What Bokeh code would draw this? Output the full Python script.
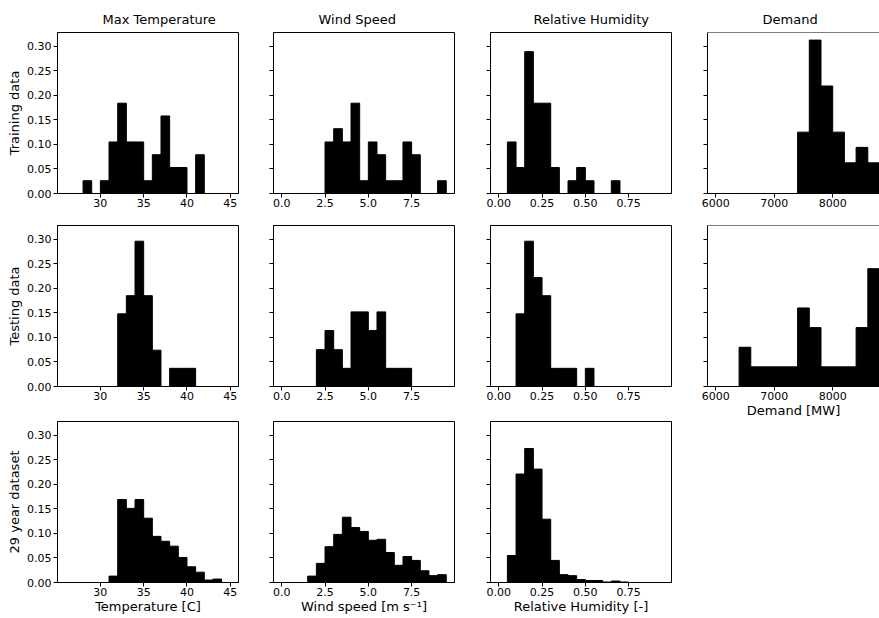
from bokeh.plotting import figure
from bokeh.layouts import gridplot
from bokeh.models import Range1d, FixedTicker, PrintfTickFormatter, Span
from bokeh.embed import file_html
from bokeh.resources import INLINE

# ---------------- data ----------------
col_titles = ["Max Temperature", "Wind Speed", "Relative Humidity", "Demand"]
row_labels = ["Training data", "Testing data", "29 year dataset"]
x_labels = ["Temperature [C]", "Wind speed [m s\u207b\u00b9]", "Relative Humidity [-]", "Demand [MW]"]

temp_edges = [26, 27, 28, 29, 30, 31, 32, 33, 34, 35, 36, 37, 38, 39, 40, 41, 42, 43, 44, 45]
wind_edges = [0.0, 0.5, 1.0, 1.5, 2.0, 2.5, 3.0, 3.5, 4.0, 4.5, 5.0, 5.5, 6.0, 6.5, 7.0, 7.5, 8.0, 8.5, 9.0, 9.5]
rh_edges = [0.00, 0.05, 0.10, 0.15, 0.20, 0.25, 0.30, 0.35, 0.40, 0.45, 0.50, 0.55, 0.60, 0.65, 0.70, 0.75, 0.80, 0.85, 0.90, 0.95]
demand_edges = [6000, 6200, 6400, 6600, 6800, 7000, 7200, 7400, 7600, 7800, 8000, 8200, 8400, 8600, 8800]

temp_train = [0, 0, 0.026, 0, 0.026, 0.105, 0.184, 0.105, 0.105, 0.026, 0.079, 0.158, 0.053, 0.053, 0, 0.079, 0, 0, 0]
temp_test = [0, 0, 0, 0, 0, 0, 0.148, 0.185, 0.296, 0.185, 0.074, 0, 0.037, 0.037, 0.037, 0, 0, 0, 0]
temp_29yr = [0, 0, 0, 0, 0, 0.013, 0.169, 0.151, 0.169, 0.131, 0.094, 0.084, 0.074, 0.051, 0.032, 0.021, 0.005, 0.007, 0]

wind_train = [0, 0, 0, 0, 0, 0.105, 0.132, 0.105, 0.184, 0.026, 0.105, 0.079, 0.026, 0.026, 0.105, 0.079, 0, 0, 0.026]
wind_test = [0, 0, 0, 0, 0.075, 0.114, 0.075, 0.037, 0.152, 0.152, 0.114, 0.152, 0.037, 0.037, 0.037, 0, 0, 0, 0]
wind_29yr = [0, 0, 0, 0.013, 0.039, 0.073, 0.098, 0.133, 0.112, 0.104, 0.086, 0.088, 0.061, 0.035, 0.053, 0.045, 0.024, 0.014, 0.016]

rh_train = [0, 0.105, 0.053, 0.289, 0.184, 0.184, 0.053, 0, 0.026, 0.053, 0.026, 0, 0, 0.026, 0, 0, 0, 0, 0]
rh_test = [0, 0, 0.148, 0.296, 0.222, 0.185, 0.037, 0.037, 0.037, 0, 0.037, 0, 0, 0, 0, 0, 0, 0, 0]
rh_29yr = [0, 0.055, 0.221, 0.273, 0.231, 0.129, 0.045, 0.016, 0.014, 0.006, 0.004, 0.004, 0.001, 0.003, 0.001, 0, 0, 0, 0]

demand_train = [0, 0, 0, 0, 0, 0, 0, 0.125, 0.3125, 0.219, 0.125, 0.0625, 0.094, 0.0625]
demand_test = [0, 0, 0.08, 0.04, 0.04, 0.04, 0.04, 0.16, 0.12, 0.04, 0.04, 0.04, 0.12, 0.24]

y_ticks = [0.00, 0.05, 0.10, 0.15, 0.20, 0.25, 0.30]
temp_ticks = [30, 35, 40, 45]
wind_ticks = [0.0, 2.5, 5.0, 7.5]
rh_ticks = [0.00, 0.25, 0.50, 0.75]
demand_ticks = [6000, 7000, 8000]

# ---------------- layout ----------------
FONT = "DejaVu Sans"
Y_MAX = 0.328
y_range = Range1d(0, Y_MAX)
x_ranges = [Range1d(25.05, 45.95), Range1d(-0.475, 9.975), Range1d(-0.0475, 0.9975), Range1d(5860, 8800)]
edges = [temp_edges, wind_edges, rh_edges, demand_edges]
xticks = [temp_ticks, wind_ticks, rh_ticks, demand_ticks]
xfmt = ["%d", "%.1f", "%.2f", "%d"]
series = [
    [temp_train, wind_train, rh_train, demand_train],
    [temp_test, wind_test, rh_test, demand_test],
    [temp_29yr, wind_29yr, rh_29yr, None],
]

W = [261, 217, 217, 184]
BL = [57, 12, 12, 12]
BR = [23, 24, 24, 0]
H = [213, 207, 197]
BT = [32, 12, 1]
BB = [20, 34, 35]
title_offsets = [45, 45, 43, 55]


def style_axis(ax, standoff):
    ax.major_tick_out = 4
    ax.major_tick_in = 0
    ax.minor_tick_out = 0
    ax.minor_tick_in = 0
    ax.major_tick_line_color = "black"
    ax.major_tick_line_width = 1
    ax.axis_line_color = "black"
    ax.axis_line_width = 1
    ax.major_label_text_font = FONT
    ax.major_label_text_font_size = "11px"
    ax.major_label_text_color = "black"
    ax.major_label_standoff = standoff
    ax.axis_label_text_font = FONT
    ax.axis_label_text_font_size = "13px"
    ax.axis_label_text_font_style = "normal"
    ax.axis_label_text_color = "black"


rows = []
for r in range(3):
    row = []
    for c in range(4):
        vals = series[r][c]
        if vals is None:
            row.append(None)
            continue
        p = figure(width=W[c], height=H[r], x_range=x_ranges[c], y_range=y_range,
                   output_backend="svg", toolbar_location=None,
                   min_border_left=BL[c], min_border_right=BR[c],
                   min_border_top=BT[r], min_border_bottom=BB[r])
        p.xgrid.visible = False
        p.ygrid.visible = False
        p.background_fill_color = "white"
        p.border_fill_color = "white"
        if c == 3:
            p.outline_line_color = None
            p.add_layout(Span(location=Y_MAX, dimension="width", line_color="black", line_width=1))
        else:
            p.outline_line_color = "black"
            p.outline_line_width = 1

        e = edges[c]
        left = [e[i] for i in range(len(vals)) if vals[i] > 0]
        right = [e[i + 1] for i in range(len(vals)) if vals[i] > 0]
        top = [v for v in vals if v > 0]
        p.quad(left=left, right=right, bottom=0, top=top,
               fill_color="black", line_color="black", line_width=1)

        style_axis(p.xaxis[0], 1)
        style_axis(p.yaxis[0], 2)
        p.xaxis.ticker = FixedTicker(ticks=xticks[c])
        p.xaxis.formatter = PrintfTickFormatter(format=xfmt[c])
        p.xaxis.axis_label_standoff = 0
        p.yaxis.ticker = FixedTicker(ticks=y_ticks)
        p.yaxis.formatter = PrintfTickFormatter(format="%.2f")
        if c == 0:
            p.yaxis.axis_label = row_labels[r]
            p.yaxis.axis_label_standoff = 2
        else:
            p.yaxis.major_label_text_font_size = "1px"
            p.yaxis.major_label_text_color = None

        if r == 2 or (r == 1 and c == 3):
            p.xaxis.axis_label = x_labels[c]

        if r == 0:
            p.title.text = col_titles[c]
            p.title.align = "left"
            p.title.text_font = FONT
            p.title.text_font_size = "13px"
            p.title.text_font_style = "normal"
            p.title.text_color = "black"
            p.title.standoff = 11
            p.title.offset = title_offsets[c]
        row.append(p)
    rows.append(row)

grid = gridplot(rows, toolbar_location=None)

open("out.html", "w").write(file_html(grid, INLINE))
